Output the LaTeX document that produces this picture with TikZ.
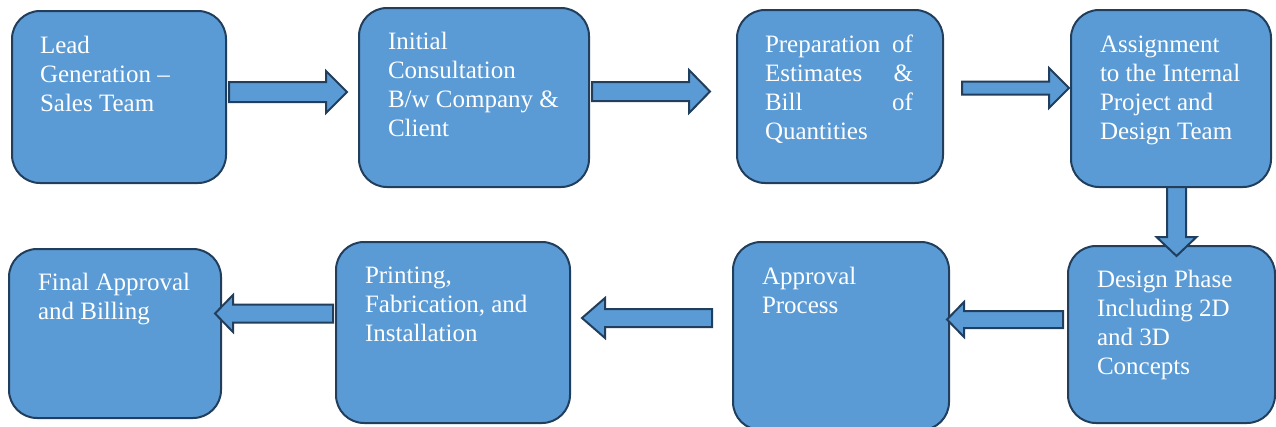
\documentclass[tikz,border=0pt]{standalone}
\usepackage{fontspec}
\setmainfont{Liberation Serif}
\definecolor{boxfill}{HTML}{5B9BD5}
\definecolor{boxline}{HTML}{213E5C}
\newcommand{\stagebox}[5]{%
  \node[stagebox, minimum width={(#4)-(#2)}, minimum height={(#5)-(#3)}] (#1) at ({((#2)+(#4))/2},{((#3)+(#5))/2}) {};}
% horizontal block arrow: start x, head base x, tip x, centre y, half shaft, half head
\newcommand{\harrow}[6]{%
  \draw[blockarrow] ({#1},{#4-#5}) -- ({#2},{#4-#5}) -- ({#2},{#4-#6}) -- ({#3},{#4}) -- ({#2},{#4+#6}) -- ({#2},{#4+#5}) -- ({#1},{#4+#5}) -- cycle;}
% vertical block arrow: start y, head base y, tip y, centre x, half shaft, half head
\newcommand{\varrow}[6]{%
  \draw[blockarrow] ({#4-#5},{#1}) -- ({#4-#5},{#2}) -- ({#4-#6},{#2}) -- ({#4},{#3}) -- ({#4+#6},{#2}) -- ({#4+#5},{#2}) -- ({#4+#5},{#1}) -- cycle;}
\begin{document}
\begin{tikzpicture}[x=1pt,y=-1pt,
  stagebox/.style={draw=boxline, fill=boxfill, line width=2pt, rounded corners=28pt, inner sep=0pt, outer sep=0pt},
  blockarrow/.style={draw=boxline, fill=boxfill, line width=2pt, line join=miter},
  txt/.style={anchor=base west, inner sep=0pt, outer sep=0pt, text=white, font=\fontsize{25}{29}\selectfont}]
\useasboundingbox (0,0) rectangle (1276,426);
\fill[white] (0,0) rectangle (1276,426);
% boxes
\stagebox{b1}{12}{11}{226}{183}
\stagebox{b2}{359}{8}{589}{187}
\stagebox{b3}{737}{10}{943}{183}
\stagebox{b4}{1071}{10}{1271}{187}
\stagebox{b5}{1068}{246}{1275}{423}
\stagebox{b6}{733}{242}{949}{430}
\stagebox{b7}{336}{242}{570}{423}
\stagebox{b8}{9}{249}{221}{418}
% texts
\node[txt] (t1) at (40,53) {\parbox[t]{200pt}{Lead\\Generation –\\Sales Team}};
\node[txt] (t2) at (388,49) {\parbox[t]{200pt}{Initial\\Consultation\\B/w Company \&\\Client}};
\node[txt] (t3) at (765,52) {\parbox[t]{148pt}{Preparation\hfill of\\Estimates\hfill\&\\Bill\hfill of\\Quantities}};
\node[txt] (t4) at (1100,52) {\parbox[t]{200pt}{Assignment\\to the Internal\\Project and\\Design Team}};
\node[txt] (t5) at (1097,287) {\parbox[t]{200pt}{Design Phase\\Including 2D\\and 3D\\Concepts}};
\node[txt] (t6) at (762,284) {\parbox[t]{200pt}{Approval\\Process}};
\node[txt] (t7) at (365,283) {\parbox[t]{200pt}{Printing,\\Fabrication, and\\Installation}};
\node[txt] (t8) at (38,290) {\parbox[t]{200pt}{Final Approval\\and Billing}};
% block arrows
\harrow{229}{326}{347}{92}{10}{21}
\harrow{592}{689}{710}{91.5}{9.5}{21.5}
\harrow{962}{1049}{1069}{88}{6.5}{20}
\varrow{187}{237}{256}{1176.5}{9.5}{20}
\harrow{1063}{964}{947}{319.5}{8.5}{17.5}
\harrow{712}{605}{582}{318}{9}{20}
\harrow{333}{233}{215}{313.5}{9}{18.5}
\end{tikzpicture}
\end{document}
